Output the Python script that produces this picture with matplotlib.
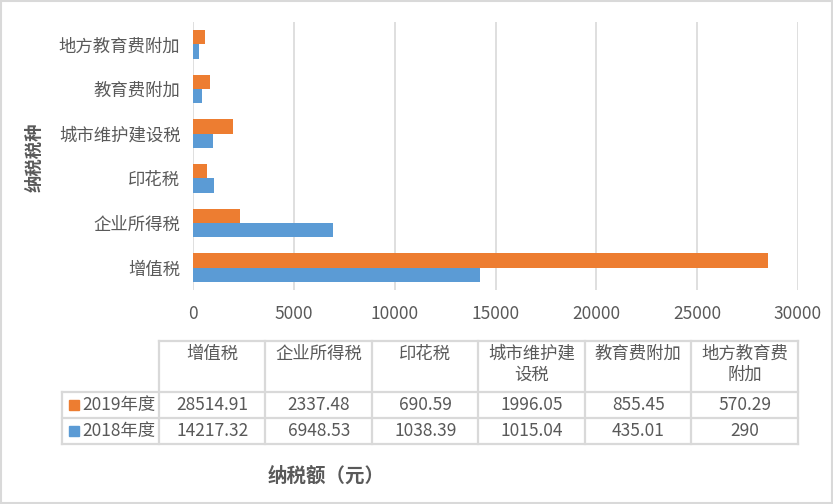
import matplotlib.pyplot as plt
from matplotlib.patches import Rectangle

plt.rcParams['font.family'] = ['Noto Sans CJK SC', 'DejaVu Sans']

categories = ['增值税', '企业所得税', '印花税', '城市维护建设税', '教育费附加', '地方教育费附加']
header_labels = ['增值税', '企业所得税', '印花税', '城市维护建\n设税', '教育费附加', '地方教育费\n附加']
vals_2019 = [28514.91, 2337.48, 690.59, 1996.05, 855.45, 570.29]
vals_2018 = [14217.32, 6948.53, 1038.39, 1015.04, 435.01, 290]
cell_2019 = ['28514.91', '2337.48', '690.59', '1996.05', '855.45', '570.29']
cell_2018 = ['14217.32', '6948.53', '1038.39', '1015.04', '435.01', '290']
series_names = ['2019年度', '2018年度']

orange = '#ED7D31'
blue = '#5B9BD5'
grid_c = '#D9D9D9'
txt_c = '#595959'
fs = 12.5

W, H = 833, 504
fig = plt.figure(figsize=(W / 100, H / 100), dpi=100)

def fx(px):
    return px / W

def fy(py):
    return 1 - py / H

# main bar axes
ax = fig.add_axes([fx(193), fy(290), fx(798) - fx(193), fy(22) - fy(290)])
ypos = list(range(len(categories)))
bh = 0.32
ax.barh([y + bh / 2 for y in ypos], vals_2019, height=bh, color=orange, zorder=3)
ax.barh([y - bh / 2 for y in ypos], vals_2018, height=bh, color=blue, zorder=3)
ax.set_xlim(0, 30000)
ax.set_ylim(-0.5, 5.5)
ax.set_xticks(range(0, 30001, 5000))
ax.set_yticks(ypos)
ax.set_yticklabels(categories)
ax.tick_params(axis='both', length=0, colors=txt_c, labelsize=fs)
ax.tick_params(axis='x', pad=11)
ax.tick_params(axis='y', pad=9)
ax.grid(axis='x', color=grid_c, linewidth=1.2, zorder=0)
for s in ax.spines.values():
    s.set_visible(False)

# overlay axes in pixel coordinates for the table and titles
ov = fig.add_axes([0, 0, 1, 1])
ov.set_xlim(0, W)
ov.set_ylim(H, 0)
ov.axis('off')

ov.text(35, 157, '纳税税种', rotation=90, ha='center', va='center', fontsize=fs,
        fontweight='bold', color=txt_c)

# data table
col_x = [159 + i * (798 - 159) / 6 for i in range(7)]
top, hdr_bot, mid, bot = 341, 392, 418, 444
lw = 1.6
ov.plot([col_x[0], col_x[-1]], [top, top], color=grid_c, lw=lw)
for y in [hdr_bot, mid, bot]:
    ov.plot([62, col_x[-1]], [y, y], color=grid_c, lw=lw)
for x in col_x:
    ov.plot([x, x], [top, bot], color=grid_c, lw=lw)
ov.plot([62, 62], [hdr_bot, bot], color=grid_c, lw=lw)

for i, lab in enumerate(header_labels):
    cx = (col_x[i] + col_x[i + 1]) / 2
    ov.text(cx, 345, lab, ha='center', va='top', fontsize=fs, color=txt_c, linespacing=1.2)
    ov.text(cx, (hdr_bot + mid) / 2, cell_2019[i], ha='center', va='center', fontsize=fs, color=txt_c)
    ov.text(cx, (mid + bot) / 2, cell_2018[i], ha='center', va='center', fontsize=fs, color=txt_c)

for yc, name, col in [((hdr_bot + mid) / 2, series_names[0], orange),
                      ((mid + bot) / 2, series_names[1], blue)]:
    ov.add_patch(Rectangle((69, yc - 5), 10, 10, color=col))
    ov.text(82, yc, name, ha='left', va='center', fontsize=fs, color=txt_c)

ov.text(326, 476, '纳税额（元）', ha='center', va='center', fontsize=14,
        fontweight='bold', color=txt_c)

ov.add_patch(Rectangle((1, 1), W - 2, H - 2, fill=False, edgecolor=grid_c, lw=1.5))

fig.savefig('out.png', dpi=100, facecolor='white')
